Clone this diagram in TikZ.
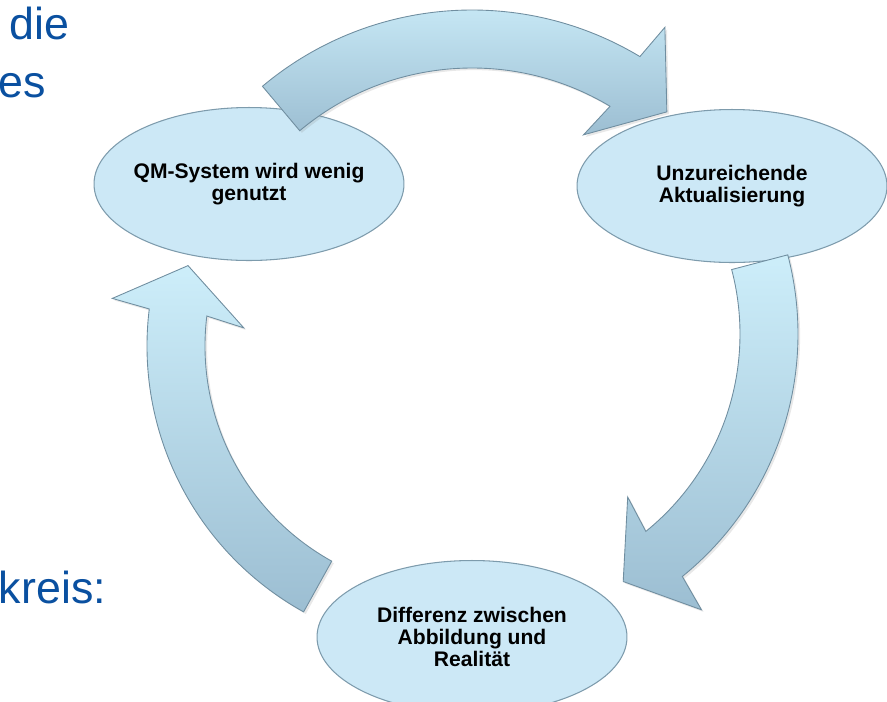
\documentclass[tikz,border=0pt]{standalone}
\usepackage{fontspec}
\setmainfont{Liberation Sans}
\usetikzlibrary{shapes.geometric}
\usetikzlibrary{shadows}
\definecolor{slideblue}{RGB}{10,80,160}
\definecolor{bubblefill}{RGB}{204,232,246}
\definecolor{bubbleline}{RGB}{125,155,172}
\definecolor{arrowlight}{RGB}{205,238,250}
\definecolor{arrowdark}{RGB}{156,190,210}
\definecolor{arrowline}{RGB}{112,142,160}

% bent arrow: centre x, centre y, radius, tail angle, head angle
\newcommand{\cyclearrow}[5]{%
	\begin{scope}[shift={(#1,#2)}]
		\path[looparrow] (#4:#3+29) arc[start angle=#4, end angle=#5, radius=#3+29]
			-- (#5+1:#3+67) -- (#5+10:#3) -- (#5-2:#3-67) -- (#5:#3-29)
			arc[start angle=#5, end angle=#4, radius=#3-29] -- cycle;
	\end{scope}}

\begin{document}
\begin{tikzpicture}[x=0.02cm, y=-0.02cm,
	bubble/.style={ellipse, draw=bubbleline, fill=bubblefill, line width=0.6pt,
		minimum width=6.2cm, minimum height=3.06cm, inner ysep=0pt, inner xsep=-5pt,
		align=center, font=\bfseries\fontsize{12}{12.5}\selectfont},
	looparrow/.style={draw=arrowline, line width=0.5pt, top color=arrowlight,
		bottom color=arrowdark,
		drop shadow={opacity=0.18, shadow xshift=1.2pt, shadow yshift=-1.2pt}},
	slidetext/.style={anchor=base west, inner sep=0pt, text=slideblue,
		font=\fontsize{25.5}{30}\selectfont}]
	\useasboundingbox (0,0) rectangle (887,701);
	\clip (0,0) rectangle (887,701);
	
	% slide text behind the cycle
	\node[slidetext] (die) at (9,39) {die};
	\node[slidetext] (es) at (-1.5,97) {es};
	\node[slidetext] (kreis) at (-1.5,603) {kreis:};
	
	% the three states
	\node[bubble] (qm) at (249,184) {QM-System wird wenig\\genutzt};
	\node[bubble] (update) at (732,186) {Unzureichende\\Aktualisierung};
	\node[bubble] (gap) at (472,637) {Differenz zwischen\\Abbildung und\\Realität};
	
	% arrows of the cycle
	\cyclearrow{472}{336}{297}{-130}{-59}
	\cyclearrow{486}{334}{283}{-14.7}{51}
	\cyclearrow{451}{346}{275}{119}{187}
\end{tikzpicture}
\end{document}
